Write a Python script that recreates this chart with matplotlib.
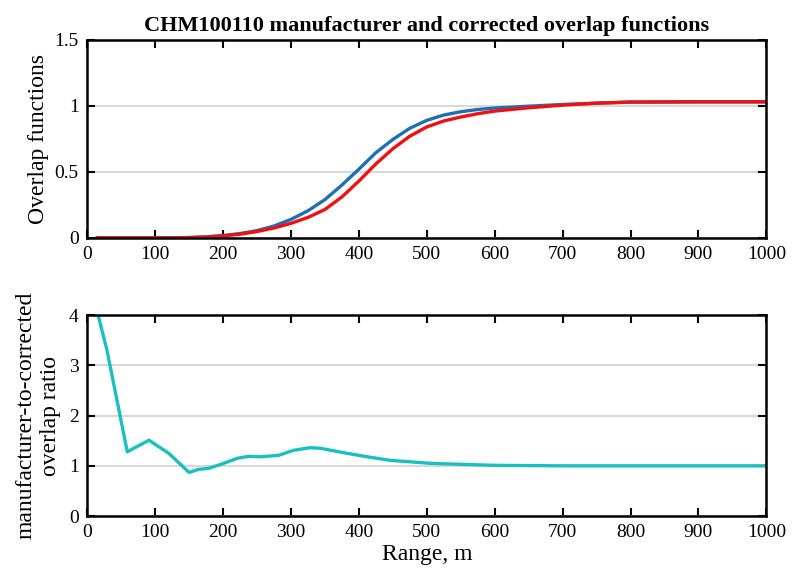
import numpy as np
import matplotlib.pyplot as plt

plt.rcParams['font.family'] = ['Liberation Serif', 'DejaVu Serif']

# overlap functions
rng_top = [15, 50, 100, 125, 150, 175, 200, 225, 250, 275, 300, 325, 350, 375, 400, 425,
           450, 475, 500, 525, 550, 575, 600, 650, 700, 750, 800, 900, 1000]
manufacturer = [0, 0, 0, 0.001, 0.003, 0.008, 0.018, 0.033, 0.055, 0.09, 0.14, 0.205, 0.29,
                0.40, 0.52, 0.645, 0.745, 0.83, 0.89, 0.93, 0.955, 0.972, 0.983, 0.997,
                1.01, 1.02, 1.028, 1.03, 1.03]
corrected = [0, 0, 0, 0.001, 0.002, 0.006, 0.015, 0.028, 0.048, 0.075, 0.11, 0.155, 0.215,
             0.31, 0.43, 0.56, 0.675, 0.77, 0.84, 0.885, 0.915, 0.94, 0.96, 0.985,
             1.005, 1.02, 1.028, 1.03, 1.03]

# manufacturer-to-corrected ratio
rng_bot = [16, 29, 59, 91, 120, 150, 164, 179, 201, 221, 238, 255, 282, 304, 328, 343,
           382, 417, 446, 505, 550, 600, 700, 800, 1000]
ratio = [4.0, 3.31, 1.28, 1.51, 1.25, 0.87, 0.93, 0.95, 1.05, 1.15, 1.19, 1.18, 1.21, 1.31,
         1.36, 1.35, 1.25, 1.17, 1.11, 1.05, 1.03, 1.01, 1.0, 1.0, 1.0]

fig = plt.figure(figsize=(8, 5.76), dpi=100)
ax1 = fig.add_axes([0.109, 0.587, 0.849, 0.344])
ax2 = fig.add_axes([0.109, 0.104, 0.849, 0.349])


def style(ax):
    ax.tick_params(direction='in', top=True, right=True, length=6, width=1.5,
                   labelsize=14, pad=6)
    for s in ax.spines.values():
        s.set_linewidth(1.8)
    ax.yaxis.grid(True, color='#d9d9d9', linewidth=1.5)
    ax.set_axisbelow(True)
    ax.set_xlim(0, 1000)
    ax.set_xticks(np.arange(0, 1001, 100))


ax1.plot(rng_top, manufacturer, color='#1f6fb5', linewidth=2.4)
ax1.plot(rng_top, corrected, color='#f01010', linewidth=2.4)
style(ax1)
ax1.set_ylim(0, 1.5)
ax1.set_yticks([0, 0.5, 1, 1.5])
ax1.set_yticklabels(['0', '0.5', '1', '1.5'])
ax1.set_ylabel('Overlap functions', fontsize=17)
ax1.set_title('CHM100110 manufacturer and corrected overlap functions',
              fontsize=16, fontweight='bold', pad=6)

ax2.plot(rng_bot, ratio, color='#1abfbf', linewidth=2.4)
style(ax2)
ax2.set_ylim(0, 4)
ax2.set_yticks([0, 1, 2, 3, 4])
ax2.set_ylabel('manufacturer-to-corrected\noverlap ratio', fontsize=17,
               multialignment='center', labelpad=6)
ax2.set_xlabel('Range, m', fontsize=17, labelpad=2)

fig.savefig('out.png', dpi=100)
